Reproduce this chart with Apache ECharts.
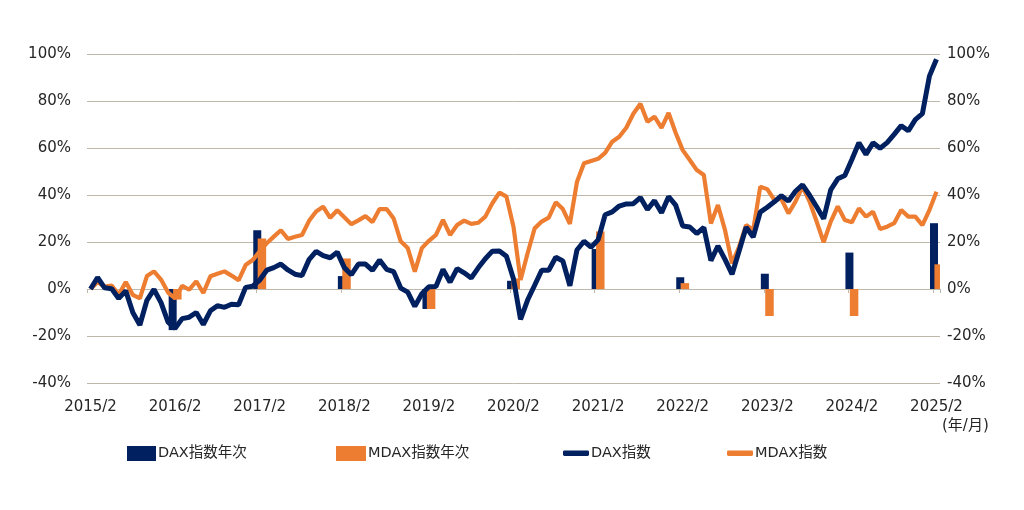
<!DOCTYPE html>
<html><head><meta charset="utf-8">
<script src="https://cdn.jsdelivr.net/npm/echarts@6/dist/echarts.min.js"></script>
<style>html,body{margin:0;padding:0;background:#fff}#c{width:1024px;height:510px}</style>
</head><body><div id="c"></div>
<script>
// Monthly categories 2015/2 .. 2025/2
const months = [];
for (let y = 2015, m = 2; y < 2025 || (y === 2025 && m <= 2); ) {
  months.push(y + '/' + m);
  m++; if (m > 12) { m = 1; y++; }
}
// DAX index, cumulative change vs 2015/2 (%)
const daxIndex = [
  0, 4.9, 0.5, 0.1, -4.0, -0.8, -10.0, -15.3, -4.8, -0.2, -5.8,
  -14.1, -16.7, -12.6, -12.0, -10.0, -15.1, -9.3, -7.1, -7.8, -6.5, -6.7, 0.7,
  1.2, 3.8, 8.0, 9.1, 10.6, 8.1, 6.3, 5.7, 12.5, 16.0, 14.2, 13.3,
  15.7, 9.1, 6.1, 10.6, 10.6, 7.9, 12.3, 8.4, 7.4, 0.4, -1.3, -7.4,
  -2.0, 1.0, 1.1, 8.3, 2.9, 8.7, 6.9, 4.7, 9.0, 12.9, 16.1, 16.2,
  13.9, 4.3, -12.9, -4.7, 1.6, 8.0, 8.0, 13.5, 11.9, 1.4, 16.6, 20.3,
  17.8, 20.9, 31.6, 32.8, 35.3, 36.2, 36.3, 38.9, 33.8, 37.6, 32.4, 39.3,
  35.7, 26.8, 26.4, 23.6, 26.2, 12.1, 18.3, 12.6, 6.3, 16.2, 26.3, 22.1,
  32.7, 34.8, 37.1, 39.7, 37.4, 41.6, 44.3, 39.9, 35.0, 29.9, 42.2, 46.9,
  48.3, 55.1, 62.2, 57.3, 62.2, 59.9, 62.3, 65.8, 69.5, 67.3, 72.1, 74.6,
  90.6, 97.8
];
// MDAX index, cumulative change vs 2015/2 (%)
const mdaxIndex = [
  0, 3, 1, 1.5, -2.5, 3, -2.5, -4, 5.5, 7.5, 4,
  -1.5, -4, 1.4, -0.3, 3.3, -1.7, 5.4, 6.5, 7.5, 5.7, 3.7, 10.2,
  12.3, 16, 19.5, 22.3, 25, 21.3, 22.2, 23, 29, 33, 35, 30.3,
  33.5, 30.5, 27.6, 29.2, 31, 28.5, 34, 34, 30, 20.3, 17.4, 7.4,
  17.4, 20.5, 23, 29.4, 23, 27.2, 29.1, 27.7, 28.2, 30.8, 36.5, 41,
  39.3, 26.5, 3.8, 15.2, 25.8, 28.7, 30.4, 36.9, 34, 27.7, 45.5, 53.5,
  54.5, 55.4, 57.9, 62.7, 64.8, 68.6, 74.6, 78.8, 71.2, 73.3, 68.6, 74.9,
  66.5, 59.1, 54.9, 50.6, 48.5, 27.9, 35.7, 25.1, 10.9, 18, 27.2, 25.1,
  43.5, 42.5, 37.9, 38.3, 32.2, 37.2, 43.6, 37.2, 28.7, 19.9, 28.7, 35.1,
  29.4, 28.4, 34.3, 30.8, 32.9, 25.5, 26.5, 28, 33.6, 30.8, 30.8, 27.2,
  33.6, 41.4
];
// Annual (year-on-year) returns at each February
const annualMonths = ['2016/2','2017/2','2018/2','2019/2','2020/2','2021/2','2022/2','2023/2','2024/2','2025/2'];
const daxAnnual  = [-17.5, 25, 5.5, -8.5, 3.5, 17, 5, 6.5, 15.5, 28];
const mdaxAnnual = [-4.5, 21.5, 13, -8.5, 4.5, 24.5, 2.5, -11.5, -11.5, 10.5];
const yTickLabels = ['-40%','-20%','0%','20%','40%','60%','80%','100%'];

function toMonthly(vals) {
  const out = months.map(() => '-');
  annualMonths.forEach((m, k) => { out[months.indexOf(m)] = vals[k]; });
  return out;
}

const NAVY = '#002060', ORANGE = '#ED7D31', GRID = '#BFB7AA', TXT = '#262626';
const FONT = '"DejaVu Sans", "Noto Sans CJK JP", sans-serif';

const chart = echarts.init(document.getElementById('c'), null, {renderer: 'canvas'});
const yLab = v => yTickLabels[(v + 40) / 20];
const legendBase = {top: 446, padding: 0, itemGap: 0, selectedMode: false,
  textStyle: {fontSize: 14.5, color: TXT, fontFamily: FONT, padding: [0, 0, 0, -3]}};
chart.setOption({
  animation: false,
  backgroundColor: '#fff',
  textStyle: {fontFamily: FONT},
  grid: {left: 87, right: 84, top: 54, bottom: 127, containLabel: false},
  legend: [
    Object.assign({}, legendBase, {left: 127, data: ['DAX指数年次'], itemWidth: 29, itemHeight: 15, icon: 'rect'}),
    Object.assign({}, legendBase, {left: 336, data: ['MDAX指数年次'], itemWidth: 30, itemHeight: 15, icon: 'rect'}),
    Object.assign({}, legendBase, {left: 563, data: ['DAX指数'], itemWidth: 26, itemHeight: 5.5, icon: 'roundRect'}),
    Object.assign({}, legendBase, {left: 727, data: ['MDAX指数'], itemWidth: 26, itemHeight: 5.5, icon: 'roundRect'})
  ],
  graphic: [{
    type: 'text', left: 942, top: 419,
    style: {text: '(年/月)', fontSize: 15, fill: TXT, fontFamily: FONT}
  }],
  xAxis: [{
    type: 'category', data: months, boundaryGap: true,
    axisLine: {show: false}, axisTick: {show: false},
    axisLabel: {interval: 11, fontSize: 15, color: TXT, margin: 17, fontFamily: FONT},
    splitLine: {show: false}
  }, {
    type: 'category', data: months, boundaryGap: true, position: 'bottom',
    axisLine: {show: false, onZero: true, onZeroAxisIndex: 0},
    axisTick: {show: true, interval: 11, length: 4, lineStyle: {color: GRID}},
    axisLabel: {show: false}, splitLine: {show: false}
  }],
  yAxis: [{
    type: 'value', min: -40, max: 100, interval: 20, position: 'left',
    axisLine: {show: false}, axisTick: {show: false},
    axisLabel: {formatter: yLab, fontSize: 15, color: TXT, margin: 16, fontFamily: FONT},
    splitLine: {lineStyle: {color: GRID, width: 1}}
  }, {
    type: 'value', min: -40, max: 100, interval: 20, position: 'right',
    axisLine: {show: false}, axisTick: {show: false},
    axisLabel: {formatter: yLab, fontSize: 15, color: TXT, margin: 7, fontFamily: FONT},
    splitLine: {show: false}
  }],
  series: [
    {name: 'DAX指数年次', type: 'bar', data: toMonthly(daxAnnual), barWidth: 8, barGap: '-45%',
     itemStyle: {color: NAVY}, z: 2},
    {name: 'MDAX指数年次', type: 'bar', data: toMonthly(mdaxAnnual), barWidth: 8.5, barGap: '-45%',
     itemStyle: {color: ORANGE}, z: 2},
    {name: 'MDAX指数', type: 'line', data: mdaxIndex, symbol: 'none', smooth: false,
     lineStyle: {color: ORANGE, width: 4.2}, itemStyle: {color: ORANGE}, z: 3},
    {name: 'DAX指数', type: 'line', data: daxIndex, symbol: 'none', smooth: false,
     lineStyle: {color: NAVY, width: 5}, itemStyle: {color: NAVY}, z: 4}
  ]
});
</script></body></html>
